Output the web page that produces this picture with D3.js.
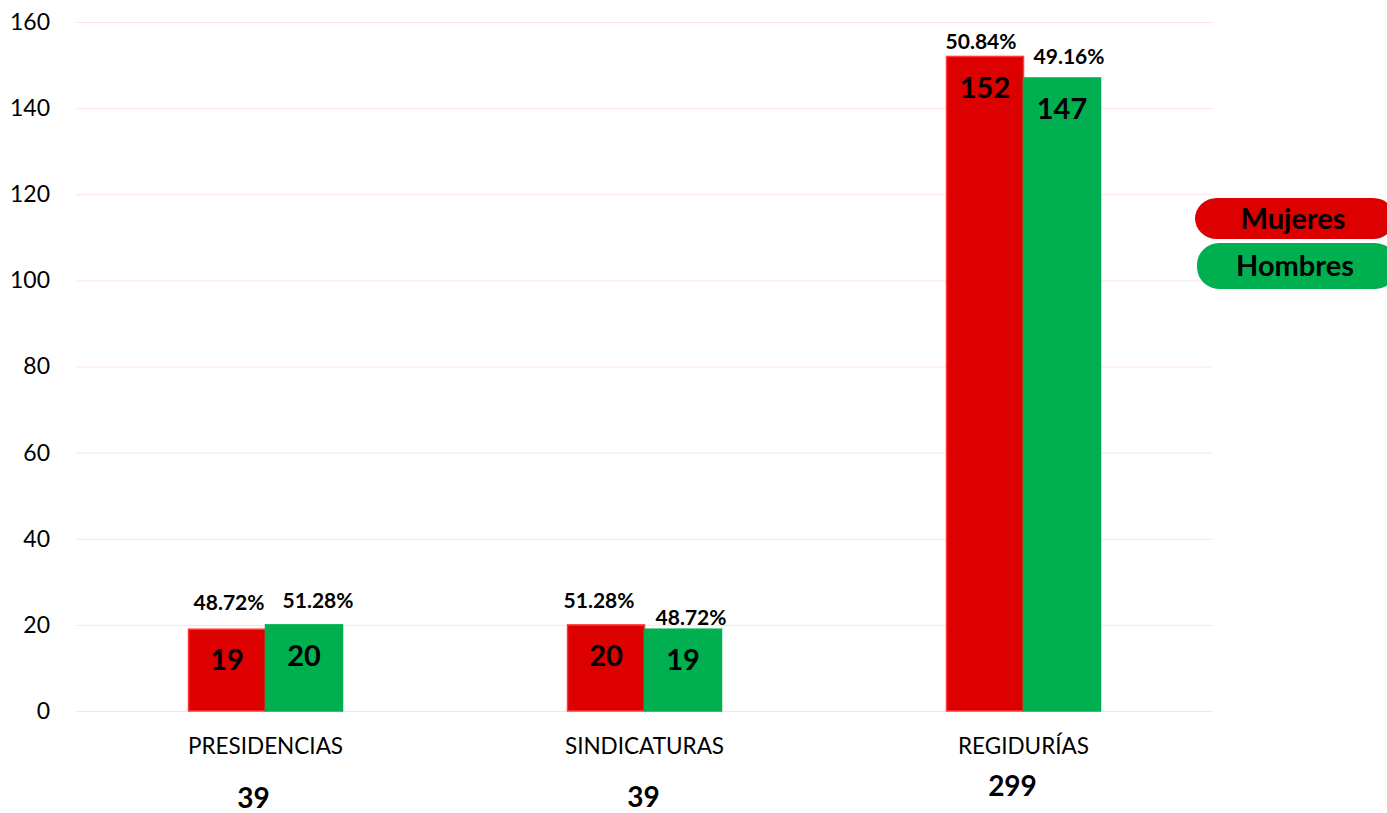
<!DOCTYPE html>
<html>
<head>
<meta charset="utf-8">
<script src="https://cdn.jsdelivr.net/npm/d3@7"></script>
<style>
  body { margin: 0; background: #fff; }
  svg { display: block; font-family: Lato, "Open Sans", sans-serif; }
</style>
</head>
<body>
<div id="vis"></div>
<script>
// data
var categories = ['PRESIDENCIAS', 'SINDICATURAS', 'REGIDURÍAS'];
var series = ['Mujeres', 'Hombres'];
var mujeres = [19, 20, 152];
var hombres = [20, 19, 147];
var mujeresPct = ['48.72%', '51.28%', '50.84%'];
var hombresPct = ['51.28%', '48.72%', '49.16%'];
var totals = [39, 39, 299];
var yTicks = [0, 20, 40, 60, 80, 100, 120, 140, 160];

// layout tweaks for the hand placed labels
var pctLift = [[27, 24], [24, 12], [15, 21]];
var pctShift = [[2, 14], [-7, 8], [-4, 7]];
var totalDrop = [87, 86, 75];
var totalShift = [-12, -1, -11];

var colors = { Mujeres: '#dd0000', Hombres: '#00b050' };
var strokes = { Mujeres: '#ff3b3b', Hombres: '#00b050' };

var width = 1387, height = 813;
var plot = { left: 76, right: 1213, top: 22, bottom: 711 };

var svg = d3.select('#vis').append('svg')
    .attr('width', width)
    .attr('height', height);

var x0 = d3.scaleBand()
    .domain(categories)
    .range([plot.left, plot.right]);

var barW = 77;
var x1 = d3.scaleBand()
    .domain(series)
    .range([x0.bandwidth() / 2 - barW, x0.bandwidth() / 2 + barW]);

var y = d3.scaleLinear()
    .domain([0, 160])
    .range([plot.bottom, plot.top]);

// gridlines + y labels
var yAxis = d3.axisLeft(y)
    .tickValues(yTicks)
    .tickSize(-(plot.right - plot.left))
    .tickPadding(26);

var gy = svg.append('g')
    .attr('transform', 'translate(' + plot.left + ',0)')
    .call(yAxis);
gy.select('.domain').remove();
gy.selectAll('.tick line').attr('stroke', '#fde4e4').attr('stroke-width', 1);
gy.selectAll('.tick text')
    .attr('fill', '#000')
    .style('font-size', '23px')
    .style('font-family', 'Lato, sans-serif');

// rows
var rows = categories.map(function(c, i) {
    return {
        cat: c, i: i,
        values: [
            { s: 'Mujeres', v: mujeres[i], pct: mujeresPct[i], j: 0 },
            { s: 'Hombres', v: hombres[i], pct: hombresPct[i], j: 1 }
        ]
    };
});

var groups = svg.selectAll('.cat')
    .data(rows)
    .enter().append('g')
    .attr('class', 'cat')
    .attr('transform', function(d) { return 'translate(' + x0(d.cat) + ',0)'; });

groups.selectAll('rect')
    .data(function(d) { return d.values; })
    .enter().append('rect')
    .attr('x', function(d) { return x1(d.s); })
    .attr('y', function(d) { return y(d.v); })
    .attr('width', x1.bandwidth())
    .attr('height', function(d) { return y(0) - y(d.v); })
    .attr('fill', function(d) { return colors[d.s]; })
    .attr('stroke', function(d) { return strokes[d.s]; })
    .attr('stroke-width', 1.5);

// value labels inside bars
groups.selectAll('.val')
    .data(function(d) { return d.values; })
    .enter().append('text')
    .attr('class', 'val')
    .attr('x', function(d) { return x1(d.s) + x1.bandwidth() / 2; })
    .attr('y', function(d) { return y(d.v) + 31; })
    .attr('dy', '0.35em')
    .attr('text-anchor', 'middle')
    .style('font-size', '29px')
    .style('font-weight', 'bold')
    .text(function(d) { return d.v; });

// percent labels above bars
groups.each(function(row) {
    d3.select(this).selectAll('.pct')
        .data(row.values)
        .enter().append('text')
        .attr('class', 'pct')
        .attr('x', function(d) { return x1(d.s) + x1.bandwidth() / 2 + pctShift[row.i][d.j]; })
        .attr('y', function(d) { return y(d.v) - pctLift[row.i][d.j]; })
        .attr('dy', '0.35em')
        .attr('text-anchor', 'middle')
        .style('font-size', '21px')
        .style('font-weight', 'bold')
        .text(function(d) { return d.pct; });
});

// category labels
groups.append('text')
    .attr('x', x0.bandwidth() / 2)
    .attr('y', plot.bottom + 35)
    .attr('dy', '0.35em')
    .attr('text-anchor', 'middle')
    .style('font-size', '22.5px')
    .text(function(d) { return d.cat; });

// totals
groups.append('text')
    .attr('x', function(d) { return x0.bandwidth() / 2 + totalShift[d.i]; })
    .attr('y', function(d) { return plot.bottom + totalDrop[d.i]; })
    .attr('dy', '0.35em')
    .attr('text-anchor', 'middle')
    .style('font-size', '28px')
    .style('font-weight', 'bold')
    .text(function(d) { return totals[d.i]; });

// legend pills
var legend = svg.selectAll('.legend')
    .data(series)
    .enter().append('g')
    .attr('class', 'legend')
    .attr('transform', function(d, i) { return 'translate(' + (1195 + i * 2) + ',' + (198 + i * 45) + ')'; });

legend.append('rect')
    .attr('width', 200)
    .attr('height', function(d, i) { return i ? 46 : 41; })
    .attr('rx', 22)
    .attr('fill', function(d) { return colors[d]; });

legend.append('text')
    .attr('x', 98)
    .attr('y', function(d, i) { return i ? 23 : 20.5; })
    .attr('dy', '0.35em')
    .attr('text-anchor', 'middle')
    .style('font-size', '29px')
    .style('font-weight', 'bold')
    .text(function(d) { return d; });
</script>
</body>
</html>
